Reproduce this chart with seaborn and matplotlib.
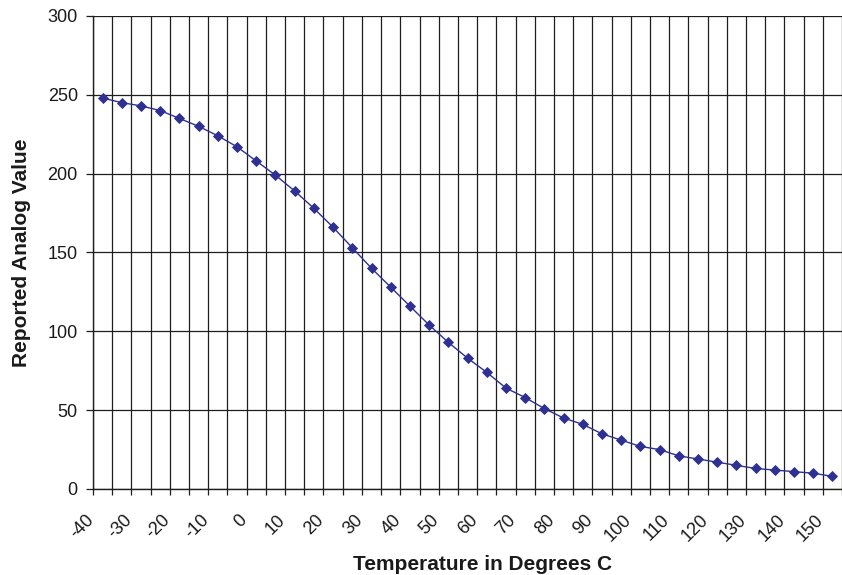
import matplotlib
matplotlib.use("Agg")
import numpy as np
import pandas as pd
import matplotlib.pyplot as plt
import matplotlib.transforms as mtransforms
import seaborn as sns

# Temperature categories (deg C) and the reported analog readings
temperatures = [-40, -35, -30, -25, -20, -15, -10, -5, 0, 5, 10, 15, 20, 25,
                30, 35, 40, 45, 50, 55, 60, 65, 70, 75, 80, 85, 90, 95, 100,
                105, 110, 115, 120, 125, 130, 135, 140, 145, 150]
analog_values = [248, 245, 243, 240, 235, 230, 224, 217, 208, 199, 189, 178,
                 166, 153, 140, 128, 116, 104, 93, 83, 74, 64, 58, 51, 45, 41,
                 35, 31, 27, 25, 21, 19, 17, 15, 13, 12, 11, 10, 8]
tick_labels = ["-40", "-30", "-20", "-10", "0", "10", "20", "30", "40", "50",
               "60", "70", "80", "90", "100", "110", "120", "130", "140", "150"]
y_ticks = [0, 50, 100, 150, 200, 250, 300]

LINE_COLOR = "#2E3192"
GRID_COLOR = "#1e1e1e"

sns.set_theme(style="white")
plt.rcParams["font.family"] = ["Liberation Sans", "DejaVu Sans"]

df = pd.DataFrame({"Temperature": temperatures, "Value": analog_values})
df["pos"] = np.arange(len(df))

fig = plt.figure(figsize=(8.42, 5.75), dpi=100)
ax = fig.add_axes([0.1105, 0.1496, 0.8895, 0.8226])

sns.lineplot(data=df, x="pos", y="Value", ax=ax, color=LINE_COLOR,
             linewidth=1.0, marker="D", markersize=5.0,
             markeredgecolor=LINE_COLOR, markeredgewidth=0.6, zorder=3)

# category axis: gridlines at the category boundaries, labels every other category
n = len(temperatures)
ax.set_xlim(-0.5, n - 0.7)
ax.set_xticks(np.arange(-0.5, n, 1.0))
ax.set_xticklabels([])
ax.set_xticks(df["pos"].iloc[::2].to_numpy(), minor=True)
ax.set_xticklabels(tick_labels, minor=True, rotation=45, ha="right", va="top")
ax.tick_params(axis="x", which="major", bottom=True, length=4, width=0.9,
               color=GRID_COLOR, direction="out")
ax.tick_params(axis="x", which="minor", bottom=True, length=0, pad=16,
               labelsize=13, labelcolor="#1a1a1a")
shift = mtransforms.ScaledTranslation(-4 / 72, 0, fig.dpi_scale_trans)
for lab in ax.get_xticklabels(minor=True):
    lab.set_transform(lab.get_transform() + shift)

ax.set_ylim(0, 300)
ax.set_yticks(y_ticks)
ax.tick_params(axis="y", left=True, length=5, width=0.9, color=GRID_COLOR,
               pad=6, labelsize=13, labelcolor="#1a1a1a")

ax.grid(True, which="major", axis="both", color=GRID_COLOR, linewidth=0.9)
ax.set_axisbelow(True)
for side in ["top", "right"]:
    ax.spines[side].set_visible(False)
for side in ["left", "bottom"]:
    ax.spines[side].set_color(GRID_COLOR)
    ax.spines[side].set_linewidth(1.0)

ax.set_xlabel("Temperature in Degrees C", fontsize=15, fontweight="bold",
              color="#1a1a1a")
ax.set_ylabel("Reported Analog Value", fontsize=15, fontweight="bold",
              color="#1a1a1a")
ax.xaxis.set_label_coords(0.52, -0.14)
ax.yaxis.set_label_coords(-0.083, 0.5)

fig.savefig("out.png", dpi=100)
plt.close(fig)
